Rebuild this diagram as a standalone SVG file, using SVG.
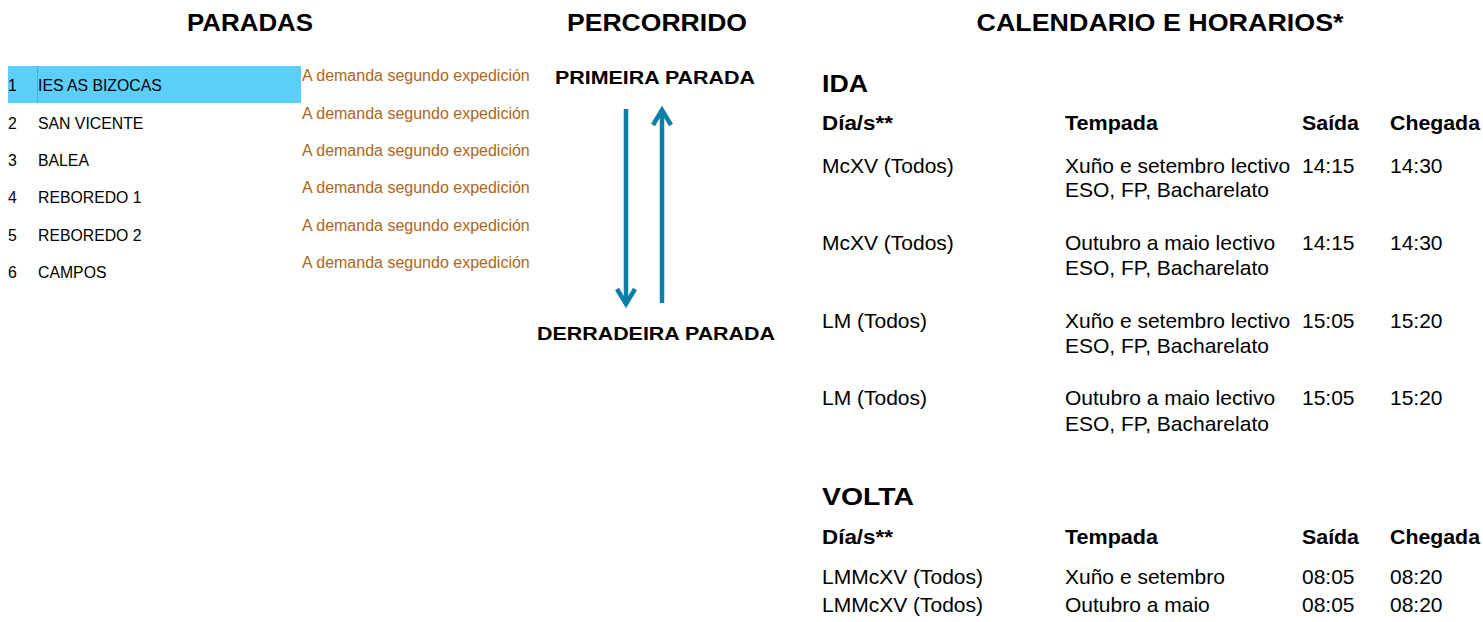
<svg xmlns="http://www.w3.org/2000/svg" width="1483" height="622" viewBox="0 0 1483 622">
<style>
text{font-family:"Liberation Sans",Arial,sans-serif;fill:#000}
.title{font-size:23px;font-weight:bold;text-anchor:middle}
.stop{font-size:15.8px}
.dem{font-size:16px;fill:#AE6618}
.term{font-size:18px;font-weight:bold;text-anchor:middle}
.sec{font-size:24px;font-weight:bold}
.hd{font-size:19.5px;font-weight:bold}
.c{font-size:21px}
.arr{stroke:#0B7FA6;stroke-width:4.5;fill:none}
</style>
<rect width="1483" height="622" fill="#fff"/>
<g id="titles">
<text class="title" x="250" y="31" textLength="126" lengthAdjust="spacingAndGlyphs">PARADAS</text>
<text class="title" x="657" y="31" textLength="180" lengthAdjust="spacingAndGlyphs">PERCORRIDO</text>
<text class="title" x="1160" y="31" textLength="367" lengthAdjust="spacingAndGlyphs">CALENDARIO E HORARIOS*</text>
</g>
<g id="stops">
<rect x="8" y="66" width="293" height="37" fill="#5BCEFA"/>
<line x1="37.5" y1="66" x2="37.5" y2="103" stroke="#3BB4E8" stroke-width="1"/>
<g id="stop1"><text class="stop" x="8" y="91">1</text><text class="stop" x="38" y="91">IES AS BIZOCAS</text><text class="dem" x="302" y="81">A demanda segundo expedición</text></g>
<g id="stop2"><text class="stop" x="8" y="129">2</text><text class="stop" x="38" y="129">SAN VICENTE</text><text class="dem" x="302" y="119">A demanda segundo expedición</text></g>
<g id="stop3"><text class="stop" x="8" y="166">3</text><text class="stop" x="38" y="166">BALEA</text><text class="dem" x="302" y="156">A demanda segundo expedición</text></g>
<g id="stop4"><text class="stop" x="8" y="203">4</text><text class="stop" x="38" y="203">REBOREDO 1</text><text class="dem" x="302" y="193">A demanda segundo expedición</text></g>
<g id="stop5"><text class="stop" x="8" y="241">5</text><text class="stop" x="38" y="241">REBOREDO 2</text><text class="dem" x="302" y="231">A demanda segundo expedición</text></g>
<g id="stop6"><text class="stop" x="8" y="278">6</text><text class="stop" x="38" y="278">CAMPOS</text><text class="dem" x="302" y="268">A demanda segundo expedición</text></g>
</g>
<g id="route-first"><text class="term" x="655" y="84" textLength="200" lengthAdjust="spacingAndGlyphs">PRIMEIRA PARADA</text></g>
<g id="route-last"><text class="term" x="656" y="340" textLength="238" lengthAdjust="spacingAndGlyphs">DERRADEIRA PARADA</text></g>
<g id="connectors">
<line class="arr" x1="626" y1="109" x2="626" y2="304"/>
<polyline class="arr" points="617,289 626,304 635,289"/>
<line class="arr" x1="662" y1="303" x2="662" y2="110"/>
<polyline class="arr" points="653,125 662,110 671,125"/>
</g>
<g id="ida">
<text class="sec" x="822" y="92" textLength="46" lengthAdjust="spacingAndGlyphs">IDA</text>
<text class="hd" x="822" y="130" textLength="71" lengthAdjust="spacingAndGlyphs">Día/s**</text>
<text class="hd" x="1065" y="130" textLength="93" lengthAdjust="spacingAndGlyphs">Tempada</text>
<text class="hd" x="1302" y="130" textLength="57" lengthAdjust="spacingAndGlyphs">Saída</text>
<text class="hd" x="1390" y="130" textLength="90" lengthAdjust="spacingAndGlyphs">Chegada</text>
<text class="c" x="822" y="173">McXV (Todos)</text>
<text class="c" x="1065" y="173">Xuño e setembro lectivo</text>
<text class="c" x="1065" y="197">ESO, FP, Bacharelato</text>
<text class="c" x="1302" y="173">14:15</text>
<text class="c" x="1390" y="173">14:30</text>
<text class="c" x="822" y="250">McXV (Todos)</text>
<text class="c" x="1065" y="250">Outubro a maio lectivo</text>
<text class="c" x="1065" y="275">ESO, FP, Bacharelato</text>
<text class="c" x="1302" y="250">14:15</text>
<text class="c" x="1390" y="250">14:30</text>
<text class="c" x="822" y="328">LM (Todos)</text>
<text class="c" x="1065" y="328">Xuño e setembro lectivo</text>
<text class="c" x="1065" y="353">ESO, FP, Bacharelato</text>
<text class="c" x="1302" y="328">15:05</text>
<text class="c" x="1390" y="328">15:20</text>
<text class="c" x="822" y="405">LM (Todos)</text>
<text class="c" x="1065" y="405">Outubro a maio lectivo</text>
<text class="c" x="1065" y="431">ESO, FP, Bacharelato</text>
<text class="c" x="1302" y="405">15:05</text>
<text class="c" x="1390" y="405">15:20</text>
</g>
<g id="volta">
<text class="sec" x="822" y="505" textLength="92" lengthAdjust="spacingAndGlyphs">VOLTA</text>
<text class="hd" x="822" y="544" textLength="71" lengthAdjust="spacingAndGlyphs">Día/s**</text>
<text class="hd" x="1065" y="544" textLength="93" lengthAdjust="spacingAndGlyphs">Tempada</text>
<text class="hd" x="1302" y="544" textLength="57" lengthAdjust="spacingAndGlyphs">Saída</text>
<text class="hd" x="1390" y="544" textLength="90" lengthAdjust="spacingAndGlyphs">Chegada</text>
<text class="c" x="822" y="584">LMMcXV (Todos)</text>
<text class="c" x="1065" y="584">Xuño e setembro</text>
<text class="c" x="1302" y="584">08:05</text>
<text class="c" x="1390" y="584">08:20</text>
<text class="c" x="822" y="612">LMMcXV (Todos)</text>
<text class="c" x="1065" y="612">Outubro a maio</text>
<text class="c" x="1302" y="612">08:05</text>
<text class="c" x="1390" y="612">08:20</text>
</g>
</svg>
